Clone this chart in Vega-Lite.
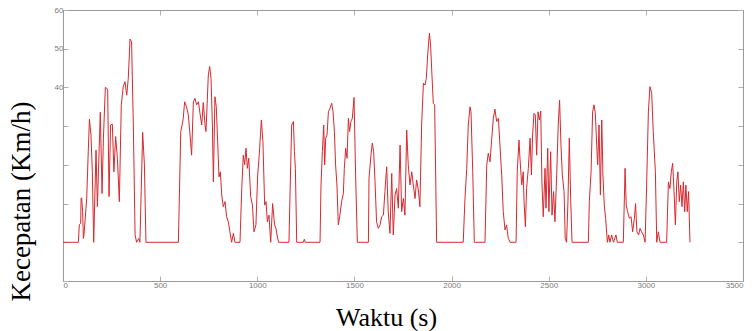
{
  "$schema": "https://vega.github.io/schema/vega-lite/v6.json",
  "width": 680,
  "height": 271,
  "autosize": {"type": "none"},
  "padding": {"left": 63, "top": 10, "right": 12, "bottom": 50},
  "background": "white",
  "config": {
    "view": {"stroke": "#9a9a9a", "strokeWidth": 1},
    "axis": {"grid": false, "labelFont": "Liberation Sans", "labelFontSize": 8, "labelColor": "#7a7a7a", "domainColor": "#9a9a9a", "tickColor": "#b0b0b0", "tickSize": -5, "titleFont": "Liberation Serif", "titleFontWeight": "normal", "titleColor": "#000000"}
  },
  "data": {"values": [
    {"t": 0, "v": 0}, {"t": 79, "v": 0}, {"t": 84, "v": 4.5}, {"t": 91, "v": 4.9}, {"t": 93, "v": 11.3}, {"t": 96, "v": 11.5}, {"t": 101, "v": 7.9}, {"t": 105, "v": 1.0}, {"t": 108, "v": 1.9},
    {"t": 122, "v": 11.3}, {"t": 130, "v": 23.4}, {"t": 136, "v": 31.8}, {"t": 144, "v": 27.7}, {"t": 151, "v": 18.2}, {"t": 158, "v": 0}, {"t": 170, "v": 23.8}, {"t": 177, "v": 9.2},
    {"t": 192, "v": 33.6}, {"t": 201, "v": 12.6}, {"t": 208, "v": 26.9}, {"t": 218, "v": 40.0}, {"t": 225, "v": 39.8}, {"t": 230, "v": 39.3}, {"t": 237, "v": 11.8}, {"t": 245, "v": 30.3},
    {"t": 254, "v": 30.5}, {"t": 262, "v": 18.2}, {"t": 271, "v": 27.3}, {"t": 280, "v": 21.7}, {"t": 290, "v": 10.5}, {"t": 300, "v": 35.5}, {"t": 310, "v": 40.2}, {"t": 319, "v": 41.5},
    {"t": 328, "v": 38.0}, {"t": 336, "v": 42.3}, {"t": 345, "v": 52.5}, {"t": 353, "v": 51.8}, {"t": 362, "v": 30.3}, {"t": 371, "v": 1.9}, {"t": 379, "v": 0}, {"t": 390, "v": 1.0},
    {"t": 396, "v": 0}, {"t": 410, "v": 28.4}, {"t": 419, "v": 20.0}, {"t": 427, "v": 0}, {"t": 594, "v": 0}, {"t": 606, "v": 28.6}, {"t": 613, "v": 30.3}, {"t": 619, "v": 32.0},
    {"t": 626, "v": 36.3}, {"t": 636, "v": 35.0}, {"t": 645, "v": 32.9}, {"t": 654, "v": 27.7}, {"t": 662, "v": 22.5}, {"t": 671, "v": 36.3}, {"t": 679, "v": 37.2}, {"t": 688, "v": 35.5},
    {"t": 697, "v": 36.3}, {"t": 705, "v": 33.3}, {"t": 714, "v": 30.3}, {"t": 722, "v": 36.1}, {"t": 731, "v": 30.3}, {"t": 736, "v": 28.6}, {"t": 748, "v": 43.2}, {"t": 755, "v": 45.4},
    {"t": 762, "v": 42.3}, {"t": 769, "v": 30.3}, {"t": 774, "v": 15.6}, {"t": 782, "v": 37.6}, {"t": 789, "v": 35.0}, {"t": 796, "v": 26.0}, {"t": 803, "v": 16.9}, {"t": 810, "v": 18.2},
    {"t": 817, "v": 12.2}, {"t": 825, "v": 9.2}, {"t": 834, "v": 10.5}, {"t": 842, "v": 6.6}, {"t": 851, "v": 5.3}, {"t": 859, "v": 2.7}, {"t": 868, "v": 0}, {"t": 877, "v": 2.3},
    {"t": 885, "v": 0}, {"t": 911, "v": 0}, {"t": 920, "v": 13.9}, {"t": 928, "v": 22.5}, {"t": 935, "v": 20.0}, {"t": 942, "v": 24.3}, {"t": 949, "v": 19.1}, {"t": 956, "v": 21.7},
    {"t": 966, "v": 11.8}, {"t": 975, "v": 9.6}, {"t": 983, "v": 2.7}, {"t": 993, "v": 4.5}, {"t": 1002, "v": 17.4}, {"t": 1010, "v": 22.5}, {"t": 1021, "v": 31.6}, {"t": 1029, "v": 26.0},
    {"t": 1038, "v": 9.6}, {"t": 1045, "v": 10.5}, {"t": 1052, "v": 5.3}, {"t": 1060, "v": 7.0}, {"t": 1069, "v": 0}, {"t": 1079, "v": 10.0}, {"t": 1089, "v": 4.5}, {"t": 1096, "v": 3.6},
    {"t": 1105, "v": 1.0}, {"t": 1110, "v": 0}, {"t": 1163, "v": 0}, {"t": 1172, "v": 20.0}, {"t": 1177, "v": 30.3}, {"t": 1186, "v": 31.2}, {"t": 1191, "v": 23.4}, {"t": 1196, "v": 19.1},
    {"t": 1203, "v": 0}, {"t": 1237, "v": 0}, {"t": 1242, "v": 0.8}, {"t": 1247, "v": 0}, {"t": 1323, "v": 0}, {"t": 1328, "v": 14.8}, {"t": 1335, "v": 23.4}, {"t": 1342, "v": 30.3},
    {"t": 1347, "v": 20.0}, {"t": 1352, "v": 26.9}, {"t": 1359, "v": 27.7}, {"t": 1366, "v": 33.7}, {"t": 1374, "v": 34.6}, {"t": 1383, "v": 35.9}, {"t": 1390, "v": 33.7}, {"t": 1397, "v": 28.6},
    {"t": 1403, "v": 20.0}, {"t": 1410, "v": 14.8}, {"t": 1417, "v": 4.5}, {"t": 1424, "v": 6.6}, {"t": 1434, "v": 10.5}, {"t": 1443, "v": 12.6}, {"t": 1448, "v": 19.1}, {"t": 1455, "v": 24.3},
    {"t": 1462, "v": 21.7}, {"t": 1469, "v": 32.0}, {"t": 1475, "v": 28.6}, {"t": 1482, "v": 31.2}, {"t": 1489, "v": 32.0}, {"t": 1498, "v": 37.4}, {"t": 1506, "v": 17.4}, {"t": 1515, "v": 0},
    {"t": 1572, "v": 0}, {"t": 1575, "v": 16.5}, {"t": 1585, "v": 22.5}, {"t": 1592, "v": 25.6}, {"t": 1599, "v": 23.4}, {"t": 1606, "v": 15.6}, {"t": 1614, "v": 5.3}, {"t": 1623, "v": 3.6},
    {"t": 1632, "v": 4.5}, {"t": 1640, "v": 6.6}, {"t": 1649, "v": 7.0}, {"t": 1657, "v": 13.1}, {"t": 1666, "v": 19.5}, {"t": 1674, "v": 7.9}, {"t": 1683, "v": 2.3}, {"t": 1692, "v": 17.8},
    {"t": 1700, "v": 1.9}, {"t": 1709, "v": 12.2}, {"t": 1717, "v": 13.9}, {"t": 1726, "v": 8.8}, {"t": 1735, "v": 25.1}, {"t": 1743, "v": 7.9}, {"t": 1752, "v": 11.3}, {"t": 1760, "v": 7.0},
    {"t": 1769, "v": 29.0}, {"t": 1777, "v": 20.0}, {"t": 1786, "v": 14.8}, {"t": 1795, "v": 18.2}, {"t": 1803, "v": 14.8}, {"t": 1812, "v": 11.3}, {"t": 1820, "v": 16.1}, {"t": 1829, "v": 13.5},
    {"t": 1837, "v": 9.2}, {"t": 1846, "v": 30.3}, {"t": 1855, "v": 41.1}, {"t": 1863, "v": 40.6}, {"t": 1870, "v": 42.3}, {"t": 1877, "v": 48.4}, {"t": 1886, "v": 54.0}, {"t": 1892, "v": 51.0},
    {"t": 1899, "v": 43.2}, {"t": 1906, "v": 35.9}, {"t": 1913, "v": 35.5}, {"t": 1923, "v": 0}, {"t": 2060, "v": 0}, {"t": 2069, "v": 11.3}, {"t": 2078, "v": 19.1}, {"t": 2086, "v": 30.3},
    {"t": 2095, "v": 35.0}, {"t": 2100, "v": 33.7}, {"t": 2109, "v": 18.2}, {"t": 2117, "v": 0}, {"t": 2172, "v": 0}, {"t": 2181, "v": 20.0}, {"t": 2189, "v": 23.0}, {"t": 2198, "v": 20.8},
    {"t": 2206, "v": 26.4}, {"t": 2215, "v": 32.0}, {"t": 2223, "v": 34.4}, {"t": 2232, "v": 31.2}, {"t": 2241, "v": 32.0}, {"t": 2249, "v": 25.1}, {"t": 2258, "v": 17.4}, {"t": 2266, "v": 7.9},
    {"t": 2275, "v": 3.2}, {"t": 2283, "v": 4.5}, {"t": 2292, "v": 1.0}, {"t": 2301, "v": 0}, {"t": 2332, "v": 0}, {"t": 2338, "v": 18.2}, {"t": 2347, "v": 26.4}, {"t": 2352, "v": 21.7},
    {"t": 2361, "v": 14.8}, {"t": 2369, "v": 18.2}, {"t": 2373, "v": 10.5}, {"t": 2380, "v": 4.0}, {"t": 2386, "v": 13.9}, {"t": 2395, "v": 19.1}, {"t": 2404, "v": 26.9}, {"t": 2411, "v": 17.4},
    {"t": 2417, "v": 27.7}, {"t": 2424, "v": 33.3}, {"t": 2431, "v": 32.9}, {"t": 2438, "v": 22.5}, {"t": 2445, "v": 33.7}, {"t": 2452, "v": 31.6}, {"t": 2459, "v": 33.9}, {"t": 2465, "v": 15.6},
    {"t": 2472, "v": 6.6}, {"t": 2481, "v": 19.1}, {"t": 2486, "v": 8.8}, {"t": 2495, "v": 24.3}, {"t": 2501, "v": 7.9}, {"t": 2510, "v": 23.4}, {"t": 2517, "v": 7.0}, {"t": 2525, "v": 13.1},
    {"t": 2532, "v": 5.3}, {"t": 2541, "v": 17.4}, {"t": 2549, "v": 30.3}, {"t": 2556, "v": 36.7}, {"t": 2563, "v": 25.1}, {"t": 2570, "v": 17.4}, {"t": 2579, "v": 13.1}, {"t": 2585, "v": 1.0},
    {"t": 2592, "v": 0}, {"t": 2599, "v": 10.5}, {"t": 2606, "v": 26.9}, {"t": 2613, "v": 11.3}, {"t": 2620, "v": 0}, {"t": 2704, "v": 0}, {"t": 2709, "v": 10.5}, {"t": 2718, "v": 18.2},
    {"t": 2726, "v": 33.7}, {"t": 2733, "v": 35.5}, {"t": 2740, "v": 33.3}, {"t": 2747, "v": 25.1}, {"t": 2752, "v": 20.0}, {"t": 2759, "v": 30.3}, {"t": 2766, "v": 12.2}, {"t": 2773, "v": 31.6},
    {"t": 2779, "v": 17.4}, {"t": 2786, "v": 9.6}, {"t": 2793, "v": 6.2}, {"t": 2802, "v": 0}, {"t": 2809, "v": 1.9}, {"t": 2815, "v": 0}, {"t": 2824, "v": 1.9}, {"t": 2833, "v": 0},
    {"t": 2846, "v": 1.9}, {"t": 2853, "v": 0}, {"t": 2884, "v": 0}, {"t": 2893, "v": 19.1}, {"t": 2899, "v": 9.6}, {"t": 2906, "v": 7.9}, {"t": 2915, "v": 6.2}, {"t": 2924, "v": 6.6},
    {"t": 2932, "v": 2.7}, {"t": 2941, "v": 6.2}, {"t": 2947, "v": 10.0}, {"t": 2954, "v": 2.7}, {"t": 2963, "v": 1.9}, {"t": 2970, "v": 3.6}, {"t": 2978, "v": 2.7}, {"t": 2987, "v": 1.9},
    {"t": 2996, "v": 0}, {"t": 3004, "v": 14.8}, {"t": 3013, "v": 33.7}, {"t": 3021, "v": 40.2}, {"t": 3030, "v": 38.5}, {"t": 3038, "v": 28.6}, {"t": 3049, "v": 18.2}, {"t": 3056, "v": 0},
    {"t": 3064, "v": 2.7}, {"t": 3073, "v": 0}, {"t": 3107, "v": 0}, {"t": 3116, "v": 15.6}, {"t": 3124, "v": 13.9}, {"t": 3131, "v": 18.2}, {"t": 3138, "v": 20.4}, {"t": 3145, "v": 13.1},
    {"t": 3152, "v": 4.5}, {"t": 3159, "v": 15.6}, {"t": 3165, "v": 18.2}, {"t": 3172, "v": 10.5}, {"t": 3179, "v": 14.8}, {"t": 3186, "v": 9.2}, {"t": 3193, "v": 15.6}, {"t": 3200, "v": 7.9},
    {"t": 3206, "v": 14.8}, {"t": 3213, "v": 7.9}, {"t": 3220, "v": 13.1}, {"t": 3227, "v": 0}
  ]},
  "layer": [
    {
      "mark": {"type": "line", "color": "#d8282e", "strokeWidth": 1, "interpolate": "linear"},
      "encoding": {
        "x": {"field": "t", "type": "quantitative", "scale": {"domain": [0, 3500], "nice": false},
          "axis": {"orient": "bottom", "values": [0, 500, 1000, 1500, 2000, 2500, 3000, 3500], "format": "d", "labelPadding": 5, "title": "Waktu (s)", "titleFontSize": 26, "titleX": 323, "titleY": 36, "titleBaseline": "middle", "titleAnchor": null, "titleAlign": "center"}},
        "y": {"field": "v", "type": "quantitative", "scale": {"domain": [-10, 60], "nice": false, "zero": false},
          "axis": {"orient": "left", "values": [-10, 0, 10, 20, 30, 40, 50, 60], "labelExpr": "datum.value >= 40 ? datum.label : ''", "labelPadding": 5, "title": "Kecepatan (Km/h)", "titleFontSize": 27, "titleAngle": -90, "titleX": -42, "titleY": 191, "titleAlign": "center", "titleBaseline": "middle", "titleAnchor": null}}
      }
    },
    {
      "mark": {"type": "line", "opacity": 0},
      "encoding": {
        "x": {"field": "t", "type": "quantitative", "axis": {"orient": "top", "values": [0, 500, 1000, 1500, 2000, 2500, 3000, 3500], "labels": false, "title": null}},
        "y": {"field": "v", "type": "quantitative", "axis": {"orient": "right", "values": [-10, 0, 10, 20, 30, 40, 50, 60], "labels": false, "title": null}}
      }
    }
  ],
  "resolve": {"axis": {"x": "independent", "y": "independent"}}
}
